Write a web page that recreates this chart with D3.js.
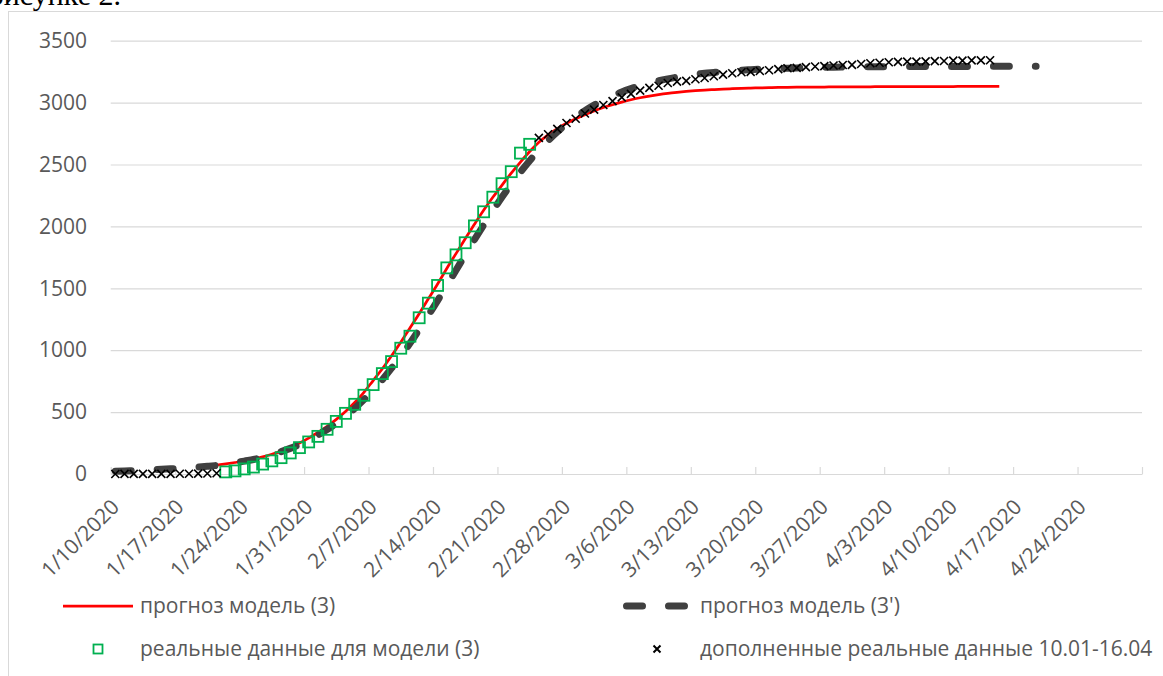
<!DOCTYPE html>
<html><head><meta charset="utf-8">
<script src="https://cdn.jsdelivr.net/npm/d3@7"></script>
<style>
body{margin:0;background:#fff}
svg{display:block}
</style>
</head><body>
<svg id="chart" width="1163" height="676"></svg>
<script>
// ---------- data ----------
const axisStartDate = "2020-01-10";
const axisEndDate   = "2020-05-01";
const yTicks = [0, 500, 1000, 1500, 2000, 2500, 3000, 3500];

const legendLabels = [
  "прогноз модель (3)",
  "прогноз модель (3')",
  "реальные данные для модели (3)",
  "дополненные реальные данные 10.01-16.04"
];

// прогноз модель (3), daily from 2020-01-21
const model3Start = "2020-01-21";
const model3Values = [72,82,93,105,120,138,160,185,215,250,290,335,385,441,505,577,660,755,850,955,
  1065,1180,1295,1415,1535,1660,1780,1900,2017,2130,2235,2334,2430,2520,2605,2680,2740,2790,2833,2870,
  2903,2933,2960,2983,3004,3023,3039,3053,3065,3075,3083,3090,3096,3101,3105,3109,3112,3115,3117,3119,
  3121,3122,3123,3124,3125,3126,3126,3127,3127,3128,3128,3128,3129,3129,3129,3129,3130,3130,3130,3130,
  3130,3131,3131,3131,3131,3131];

// прогноз модель (3'), daily from 2020-01-10
const model3pStart = "2020-01-10";
const model3pValues = [22,24,27,30,34,38,42,46,51,56,62,69,78,90,104,117,135,156,180,207,
  238,274,314,359,410,467,530,601,678,762,855,952,1056,1167,1282,1401,1523,1646,1770,1892,
  2010,2126,2237,2340,2439,2531,2616,2693,2763,2827,2884,2935,2980,3019,3054,3086,3113,3137,3158,3176,
  3192,3205,3217,3228,3237,3244,3251,3257,3262,3266,3270,3273,3276,3278,3280,3282,3284,3285,3286,3287,
  3288,3289,3289,3290,3290,3291,3291,3291,3292,3292,3292,3292,3292,3293,3293,3293,3293,3293,3293,3293,3293];

// реальные данные для модели (3), daily from 2020-01-22
const realStart = "2020-01-22";
const realValues = [17,25,41,56,80,106,132,170,213,259,304,361,425,490,563,636,722,811,908,1016,
  1113,1262,1380,1523,1665,1770,1868,2004,2118,2236,2345,2442,2592,2663];

// дополненные реальные данные, two daily runs
const extEarlyStart = "2020-01-10";
const extEarlyValues = [0,1,1,1,1,1,1,2,2,3,4,6];
const extLateStart = "2020-02-25";
const extLateValues = [2715,2744,2788,2835,2870,2912,2943,2981,3012,3042,3070,3097,3119,3136,3158,3169,
  3176,3189,3199,3213,3226,3237,3245,3248,3255,3261,3270,3277,3281,3287,3292,3295,3300,3304,3305,3312,
  3318,3322,3326,3329,3331,3331,3333,3335,3336,3339,3339,3341,3341,3342];

(function(){
// ---------- helpers ----------
const parse = d3.utcParse("%Y-%m-%d");
function series(start, values){
  const s = parse(start);
  return values.map((v,i)=>({date:d3.utcDay.offset(s,i), v}));
}
const mid = d => d3.utcHour.offset(d, 12);

const svg = d3.select("#chart");
const FONT = "'Open Sans', sans-serif";
const TXT = "#595959";
const GRID = "#d9d9d9";

// chart frame
svg.append("rect").attr("x",8.5).attr("y",11.5).attr("width",1200).attr("height",700)
  .attr("fill","none").attr("stroke",GRID).attr("stroke-width",1);

// heading text of the document, cut by the top edge as in the source image
svg.append("text").attr("x",121).attr("y",5).attr("text-anchor","end")
  .attr("font-family","'Liberation Serif', serif").attr("font-size",30).attr("fill","#000")
  .text("рисунке 2.");

const pLeft = 110.7, pRight = 1142, pTop = 40.7, pBottom = 474;
const x = d3.scaleUtc().domain([parse(axisStartDate), parse(axisEndDate)]).range([pLeft, pRight]);
const y = d3.scaleLinear().domain([0, 3500]).range([pBottom, pTop]);

// y axis with gridlines
const yAxis = d3.axisLeft(y).tickValues(yTicks).tickFormat(d3.format("d"))
  .tickSize(-(pRight-pLeft)).tickPadding(23.7);
const gy = svg.append("g").attr("transform",`translate(${pLeft},0)`).call(yAxis);
gy.select(".domain").remove();
gy.selectAll(".tick line").attr("stroke",GRID).attr("stroke-width",1.2);
gy.selectAll(".tick text").attr("font-family",FONT).attr("font-size",21).attr("fill",TXT);

// x axis
const tickDates = d3.utcDay.range(parse(axisStartDate), d3.utcDay.offset(parse(axisEndDate),1), 7);
const xAxis = d3.axisBottom(x).tickValues(tickDates).tickSize(-7).tickSizeOuter(0).tickFormat("");
const gx = svg.append("g").attr("transform",`translate(0,${pBottom})`).call(xAxis);
gx.select(".domain").attr("stroke",GRID).attr("stroke-width",1.2);
gx.selectAll(".tick line").attr("stroke",GRID).attr("stroke-width",1.2);

const fmt = d3.utcFormat("%-m/%-d/%Y");
svg.append("g").selectAll("text").data(tickDates.slice(0,-1)).join("text")
  .attr("transform", d=>`translate(${x(mid(d))},503) rotate(-45)`)
  .attr("text-anchor","end").attr("dy","0.35em")
  .attr("font-family",FONT).attr("font-size",21).attr("fill",TXT)
  .text(d=>fmt(d));

// series
const line = d3.line().x(d=>x(mid(d.date))).y(d=>y(d.v)).curve(d3.curveMonotoneX);

const red = series(model3Start, model3Values);
svg.append("path").datum(red).attr("d",line).attr("fill","none")
  .attr("stroke","#ff0000").attr("stroke-width",2.75).attr("stroke-linejoin","round");

const dash = series(model3pStart, model3pValues);
const dp = svg.append("path").datum(dash).attr("d",line).attr("fill","none")
  .attr("stroke","#404040").attr("stroke-width",7).attr("stroke-linecap","round");
const L = dp.node().getTotalLength();
const n = Math.round(L/42);
const per = (L-0.8)/n;
dp.attr("stroke-dasharray", `${(0.38*per).toFixed(2)} ${(0.62*per).toFixed(2)}`);

const real = series(realStart, realValues);
const sq = 11;
svg.append("g").selectAll("rect").data(real).join("rect")
  .attr("x",d=>x(mid(d.date))-sq/2).attr("y",d=>y(d.v)-sq/2)
  .attr("width",sq).attr("height",sq)
  .attr("fill","none").attr("stroke","#00b050").attr("stroke-width",1.8);

const ext = series(extEarlyStart, extEarlyValues).concat(series(extLateStart, extLateValues));
const cross = s => `M${-s},${-s}L${s},${s}M${-s},${s}L${s},${-s}`;
svg.append("g").selectAll("path").data(ext).join("path")
  .attr("transform",d=>`translate(${x(mid(d.date))},${y(d.v)})`)
  .attr("d",cross(4)).attr("fill","none").attr("stroke","#000").attr("stroke-width",1.6);

// legend
const lg = svg.append("g");
const row1 = 606, row2 = 649;
lg.append("line").attr("x1",63).attr("x2",133).attr("y1",row1).attr("y2",row1)
  .attr("stroke","#ff0000").attr("stroke-width",2.75);
lg.append("line").attr("x1",626.5).attr("x2",687).attr("y1",row1).attr("y2",row1)
  .attr("stroke","#404040").attr("stroke-width",7).attr("stroke-linecap","round")
  .attr("stroke-dasharray","16 26");
lg.append("rect").attr("x",98-4.5).attr("y",row2-4.5).attr("width",9).attr("height",9)
  .attr("fill","none").attr("stroke","#00b050").attr("stroke-width",1.8);
lg.append("path").attr("transform",`translate(657,${row2})`).attr("d",cross(3.5))
  .attr("stroke","#000").attr("stroke-width",2);
const legendPos = [[140,row1],[700,row1],[140,row2],[700,row2]];
lg.selectAll("text").data(legendLabels).join("text")
  .attr("x",(d,i)=>legendPos[i][0]).attr("y",(d,i)=>legendPos[i][1]).attr("dy","0.35em")
  .attr("font-family",FONT).attr("font-size",21).attr("fill",TXT)
  .text(d=>d);
})();
</script>
</body></html>
